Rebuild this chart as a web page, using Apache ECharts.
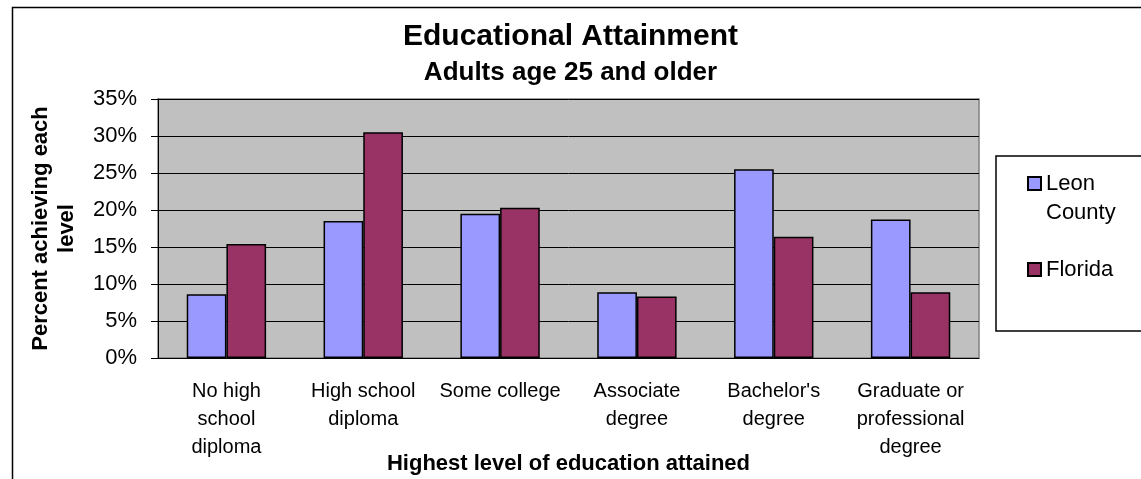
<!doctype html>
<html lang="en">
<head>
    <meta charset="UTF-8">
    <title>Educational Attainment</title>
    <style>
        html, body { margin: 0; padding: 0; background: #fff; }
    </style>
</head>
<body>
    <script src="https://cdn.jsdelivr.net/npm/echarts@6/dist/echarts.min.js"></script>
    <div id="bar" style="width: 1141px; height: 479px"></div>

    <script>
        // values, in percent
        var categories = ['No high\nschool\ndiploma', 'High school\ndiploma', 'Some college',
            'Associate\ndegree', "Bachelor's\ndegree", 'Graduate or\nprofessional\ndegree'];
        var leonCounty = [8.6, 18.5, 19.5, 8.9, 25.5, 18.7];
        var florida = [15.4, 30.5, 20.3, 8.3, 16.4, 8.9];
        var seriesNames = ['Leon County', 'Florida'];

        var font = 'Liberation Sans, Arial, sans-serif';

        var barOption = {
            animation: false,
            backgroundColor: '#fff',
            title: [
                {
                    text: 'Educational Attainment',
                    left: 'center',
                    top: 22,
                    padding: 0,
                    textStyle: { fontFamily: font, fontSize: 30, fontWeight: 'bold', color: '#000' }
                },
                {
                    text: 'Adults age 25 and older',
                    left: 'center',
                    top: 60,
                    padding: 0,
                    textStyle: { fontFamily: font, fontSize: 26, fontWeight: 'bold', color: '#000' }
                }
            ],
            grid: {
                left: 158, right: 162, top: 99, bottom: 121,
                containLabel: false,
                outerBoundsMode: 'none',
                show: true,
                backgroundColor: '#c0c0c0',
                borderColor: '#808080',
                borderWidth: 1.5
            },
            legend: {
                orient: 'vertical',
                left: 1022,
                top: 135,
                itemWidth: 13,
                itemHeight: 13,
                itemGap: 28,
                icon: 'rect',
                // leading blank line keeps the icon level with "Leon"
                formatter: function (name) {
                    return name.indexOf(' ') > 0 ? '\n' + name.replace(' ', '\n') : name;
                },
                textStyle: { fontFamily: font, fontSize: 22, color: '#000', lineHeight: 29 },
                data: seriesNames
            },
            xAxis: {
                type: 'category',
                data: categories,
                name: 'Highest level of education attained',
                nameLocation: 'middle',
                nameGap: 95,
                nameMoveOverlap: false,
                nameTextStyle: { fontFamily: font, fontSize: 22, fontWeight: 'bold', color: '#000' },
                axisLine: { lineStyle: { color: '#000', width: 1 } },
                axisTick: { length: 7, lineStyle: { color: '#000' } },
                axisLabel: {
                    interval: 0,
                    margin: 19,
                    fontFamily: font, fontSize: 20, lineHeight: 28, color: '#000'
                }
            },
            yAxis: {
                type: 'value',
                min: 0,
                max: 35,
                interval: 5,
                name: 'Percent achieving each\nlevel',
                nameLocation: 'middle',
                nameGap: 78,
                nameMoveOverlap: false,
                nameRotate: 90,
                nameTextStyle: { fontFamily: font, fontSize: 22, fontWeight: 'bold', color: '#000', lineHeight: 26 },
                axisLine: { show: true, lineStyle: { color: '#000', width: 1 } },
                axisTick: { show: true, length: 7, lineStyle: { color: '#000' } },
                axisLabel: {
                    formatter: '{value}%',
                    margin: 21,
                    fontFamily: font, fontSize: 22, color: '#000'
                },
                splitLine: { lineStyle: { color: '#000', width: 1 } }
            },
            graphic: [
                {
                    type: 'rect',
                    shape: { x: 12.5, y: 7.5, width: 1200, height: 600 },
                    style: { fill: null, stroke: '#000', lineWidth: 1.5 },
                    silent: true
                },
                {
                    type: 'rect',
                    shape: { x: 996, y: 156, width: 200, height: 175 },
                    style: { fill: '#fff', stroke: '#000', lineWidth: 1.5 },
                    z: -1,
                    silent: true
                }
            ],
            series: [
                {
                    name: seriesNames[0],
                    type: 'bar',
                    data: leonCounty,
                    barGap: '0%',
                    barCategoryGap: '42%',
                    itemStyle: { color: '#9999ff', borderColor: '#000', borderWidth: 1.5 }
                },
                {
                    name: seriesNames[1],
                    type: 'bar',
                    data: florida,
                    itemStyle: { color: '#993366', borderColor: '#000', borderWidth: 1.5 }
                }
            ]
        };

        var barChart = echarts.init(document.getElementById('bar'));
        barChart.setOption(barOption);
    </script>
</body>
</html>
